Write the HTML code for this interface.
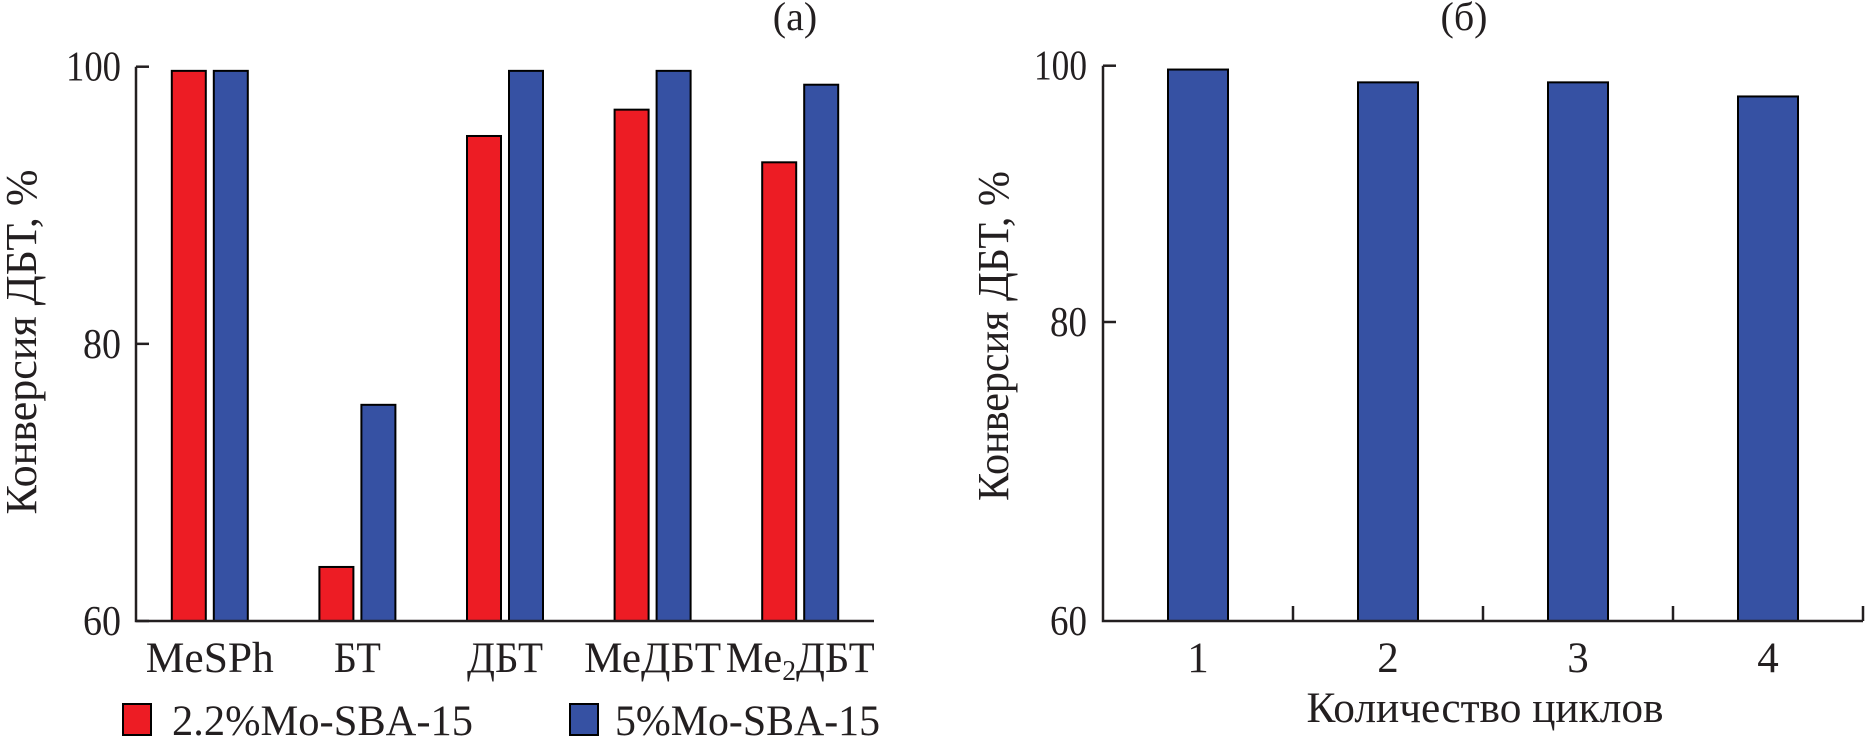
<!DOCTYPE html>
<html><head><meta charset="utf-8"><style>
html,body{margin:0;padding:0;background:#fff;}
svg{display:block;}
text{font-family:"Liberation Serif","Times New Roman","DejaVu Serif",serif;fill:#231f20;}
</style></head><body>
<svg id="chart" width="1865" height="747" viewBox="0 0 1865 747" font-family="Liberation Serif, Times New Roman, serif">
</svg>
<script>
const catsA = ["MeSPh","БТ","ДБТ","МеДБТ","Me2ДБТ"];
const seriesRed = [99.7, 63.9, 95.0, 96.9, 93.1];
const seriesBlue = [99.7, 75.6, 99.7, 99.7, 98.7];
const ticksA = [60, 80, 100];
const catsB = ["1","2","3","4"];
const seriesB = [99.7, 98.7, 98.7, 97.6];
const ticksB = [80, 100];

const NS = "http://www.w3.org/2000/svg";
const svg = document.getElementById('chart');
function mk(tag, attrs, parent){
  const e = document.createElementNS(NS, tag);
  for (const k in attrs) e.setAttribute(k, attrs[k]);
  (parent||svg).appendChild(e);
  return e;
}
const AX = "#231f20", RED = "#ed1c24", BLUE = "#3651a3";
const labLenA = {"MeSPh":128,"БТ":47,"ДБТ":76,"МеДБТ":137,"Me2ДБТ":149};

// ---------- Panel (a) ----------
const aX0 = 136, aX1 = 874, aY0 = 621, aMin = 60, aMax = 100, aTop = 66.7;
const ya = v => aY0 - (v - aMin) * (aY0 - aTop) / (aMax - aMin);
const bandA = (aX1 - aX0) / catsA.length;
const cxA = i => aX0 + bandA * (i + 0.5);
const gA = mk('g', {});



let t = mk('text', {x: 795, y: 30, 'font-size': 40, 'text-anchor': 'middle'}, gA);
t.textContent = "(a)";



catsA.forEach((c, i) => {
  const w = 34, gap = 8;
  const r = mk('rect', {x: cxA(i) - gap/2 - w, y: ya(seriesRed[i]), width: w, height: aY0 - ya(seriesRed[i]), fill: RED, stroke: '#000', 'stroke-width': 2}, gA);
  
  
  const b = mk('rect', {x: cxA(i) + gap/2, y: ya(seriesBlue[i]), width: w, height: aY0 - ya(seriesBlue[i]), fill: BLUE, stroke: '#000', 'stroke-width': 2}, gA);
  
  
  const lab = mk('text', {x: cxA(i), y: 672, 'font-size': 43, 'text-anchor': 'middle', textLength: labLenA[c] || 100, lengthAdjust: 'spacingAndGlyphs'}, gA);
  
  
  if (c === "Me2ДБТ") {
    lab.appendChild(document.createTextNode("Me"));
    const s = mk('tspan', {'font-size': 28, dy: 8}, lab);
    s.textContent = "2";
    const s2 = mk('tspan', {dy: -8}, lab);
    s2.textContent = "ДБТ";
  } else lab.textContent = c;
});
let ax = mk('path', {d: `M${aX0},${aTop} V${aY0} H${aX1}`, fill: 'none', stroke: AX, 'stroke-width': 2.5}, gA);


ticksA.forEach(v => {
  const tk = mk('line', {x1: aX0, x2: aX0 + 13, y1: ya(v), y2: ya(v), stroke: AX, 'stroke-width': 2.5}, gA);
  
  
  const tl = mk('text', {x: 121, y: ya(v) + 14, 'font-size': 42, 'text-anchor': 'end', textLength: v===100?55:38, lengthAdjust: 'spacingAndGlyphs'}, gA);
  tl.textContent = v;
  
  
});
t = mk('text', {x: 0, y: 0, 'font-size': 44, 'text-anchor': 'middle', transform: 'translate(36,342) rotate(-90)', textLength: 345, lengthAdjust: 'spacingAndGlyphs'}, gA);
t.textContent = "Конверсия ДБТ, %";



// legend
const leg = [[RED, "2.2%Mo-SBA-15", 123, 172, 301], [BLUE, "5%Mo-SBA-15", 570, 615, 265]];
leg.forEach((l, i) => {
  const g = mk('g', {}, gA);
  
  
  mk('rect', {x: l[2], y: 704, width: 28, height: 31, fill: l[0], stroke: '#000', 'stroke-width': 2}, g);
  const tx = mk('text', {x: l[3], y: 735, 'font-size': 43, textLength: l[4], lengthAdjust: 'spacingAndGlyphs'}, g);
  tx.textContent = l[1];
});

// ---------- Panel (б) ----------
const bX0 = 1103, bX1 = 1863, bY0 = 621;
const yb = v => 322 - (v - 80) * (322 - 65.7) / 20;
const bandB = (bX1 - bX0) / catsB.length;
const cxB = i => bX0 + bandB * (i + 0.5);
const gB = mk('g', {});


t = mk('text', {x: 1464, y: 30, 'font-size': 40, 'text-anchor': 'middle'}, gB);
t.textContent = "(б)";


catsB.forEach((c, i) => {
  const w = 60;
  const r = mk('rect', {x: cxB(i) - w/2, y: yb(seriesB[i]), width: w, height: bY0 - yb(seriesB[i]), fill: BLUE, stroke: '#000', 'stroke-width': 2}, gB);
  
  
  const lab = mk('text', {x: cxB(i), y: 672, 'font-size': 43, 'text-anchor': 'middle'}, gB);
  lab.textContent = c;
  
  
  const tk = mk('line', {x1: bX0 + bandB*(i+1), x2: bX0 + bandB*(i+1), y1: bY0, y2: bY0 - 15, stroke: AX, 'stroke-width': 2.5}, gB);
  
  
});
ax = mk('path', {d: `M${bX0},${yb(100)} V${bY0} H${bX1}`, fill: 'none', stroke: AX, 'stroke-width': 2.5}, gB);


ticksB.forEach(v => {
  const tk = mk('line', {x1: bX0, x2: bX0 + 13, y1: yb(v), y2: yb(v), stroke: AX, 'stroke-width': 2.5}, gB);
  
  
  const tl = mk('text', {x: 1087, y: yb(v) + 14, 'font-size': 42, 'text-anchor': 'end', textLength: v===100?53:37, lengthAdjust: 'spacingAndGlyphs'}, gB);
  tl.textContent = v;
  
  
});
t = mk('text', {x: 1087, y: bY0 + 14, 'font-size': 42, 'text-anchor': 'end', textLength: 37, lengthAdjust: 'spacingAndGlyphs'}, gB);
t.textContent = "60";


t = mk('text', {x: 0, y: 0, 'font-size': 44, 'text-anchor': 'middle', transform: 'translate(1008,336) rotate(-90)', textLength: 330, lengthAdjust: 'spacingAndGlyphs'}, gB);
t.textContent = "Конверсия ДБТ, %";


t = mk('text', {x: 1485, y: 722, 'font-size': 43, 'text-anchor': 'middle', textLength: 357, lengthAdjust: 'spacingAndGlyphs'}, gB);
t.textContent = "Количество циклов";


</script>
</body></html>
